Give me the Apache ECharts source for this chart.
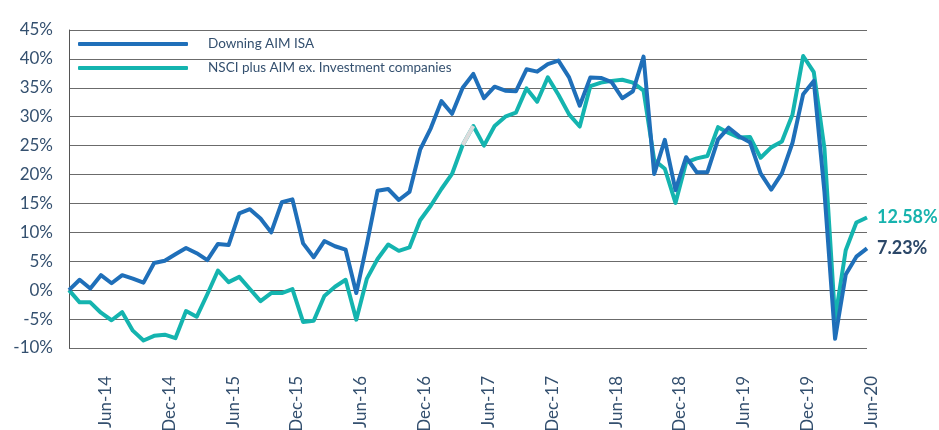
<!DOCTYPE html>
<html>
<head>
<meta charset="utf-8">
<script src="https://cdn.jsdelivr.net/npm/echarts@6/dist/echarts.min.js"></script>
<style>
html,body{margin:0;padding:0;background:#fff;}
#chart{width:939px;height:430px;}
</style>
</head>
<body>
<div id="chart"></div>
<script>
const months = ['Mar-14','Apr-14','May-14','Jun-14','Jul-14','Aug-14','Sep-14','Oct-14','Nov-14','Dec-14',
'Jan-15','Feb-15','Mar-15','Apr-15','May-15','Jun-15','Jul-15','Aug-15','Sep-15','Oct-15','Nov-15','Dec-15',
'Jan-16','Feb-16','Mar-16','Apr-16','May-16','Jun-16','Jul-16','Aug-16','Sep-16','Oct-16','Nov-16','Dec-16',
'Jan-17','Feb-17','Mar-17','Apr-17','May-17','Jun-17','Jul-17','Aug-17','Sep-17','Oct-17','Nov-17','Dec-17',
'Jan-18','Feb-18','Mar-18','Apr-18','May-18','Jun-18','Jul-18','Aug-18','Sep-18','Oct-18','Nov-18','Dec-18',
'Jan-19','Feb-19','Mar-19','Apr-19','May-19','Jun-19','Jul-19','Aug-19','Sep-19','Oct-19','Nov-19','Dec-19',
'Jan-20','Feb-20','Mar-20','Apr-20','May-20','Jun-20'];

const downingAimIsa = [0,1.8,0.3,2.6,1.2,2.6,2.0,1.3,4.7,5.1,
6.2,7.3,6.4,5.2,8.0,7.8,13.3,14.0,12.4,10.0,15.2,15.7,
8.1,5.7,8.5,7.6,7.0,-0.5,8.0,17.2,17.5,15.6,17.0,24.3,
28.0,32.7,30.5,35.0,37.4,33.2,35.2,34.5,34.4,38.2,37.8,39.1,
39.7,36.8,31.9,36.8,36.7,36.0,33.2,34.4,40.4,20.1,26.0,17.3,
23.0,20.4,20.4,26.1,28.1,26.6,25.6,20.2,17.4,20.2,25.5,33.9,
36.2,17.0,-8.4,2.7,5.8,7.23];

const nsciPlusAim = [0,-2.1,-2.1,-3.9,-5.2,-3.8,-7.0,-8.7,-7.9,-7.7,
-8.3,-3.6,-4.6,-0.7,3.4,1.4,2.3,0.2,-1.9,-0.5,-0.5,0.2,
-5.5,-5.3,-1.0,0.6,1.8,-5.1,2.0,5.4,7.9,6.8,7.4,12.1,
14.6,17.5,20.1,25.1,28.4,25.0,28.4,30.0,30.7,34.9,32.6,36.8,
33.8,30.4,28.3,35.3,35.9,36.2,36.4,35.9,34.5,22.5,21.0,15.1,
22.1,22.8,23.2,28.2,27.2,26.4,26.5,22.9,24.7,25.7,30.4,40.5,
37.7,24.5,-5.0,6.9,11.7,12.58];

// months where the benchmark line is drawn in light grey in the original
const greySegmentMonths = ['Apr-17','May-17'];

const seriesNames = ['Downing AIM ISA','NSCI plus AIM ex. Investment companies'];
const axisLabelMonths = ['Jun','Dec'];

const textColor = '#34506f';
const fontFam = 'Lato, "Open Sans", sans-serif';

const greyData = months.map((m, i) => greySegmentMonths.indexOf(m) >= 0 ? nsciPlusAim[i] : null);

const chart = echarts.init(document.getElementById('chart'), null, {renderer:'canvas'});
chart.setOption({
  animation: false,
  backgroundColor: '#ffffff',
  grid: {left: 69, right: 72, top: 30, bottom: 82, containLabel: false, outerBoundsMode: 'none'},
  legend: {
    orient: 'vertical',
    left: 73,
    top: 32,
    itemWidth: 110,
    itemHeight: 4,
    itemGap: 10,
    icon: 'roundRect',
    data: seriesNames,
    textStyle: {fontFamily: fontFam, fontSize: 13.5, color: textColor, padding: [0,0,0,15]}
  },
  xAxis: {
    type: 'category',
    data: months,
    boundaryGap: false,
    axisLine: {show: true, lineStyle: {color: '#555', width: 1}},
    axisTick: {show: false},
    splitLine: {show: false},
    axisLabel: {
      rotate: 90,
      margin: 28,
      fontFamily: fontFam,
      fontSize: 17,
      color: textColor,
      verticalAlign: 'top',
      lineHeight: 9,
      interval: function (idx, val) { return axisLabelMonths.indexOf(val.slice(0,3)) >= 0; }
    }
  },
  yAxis: {
    type: 'value',
    min: -10,
    max: 45,
    interval: 5,
    axisLine: {show: true, lineStyle: {color: '#555', width: 1}},
    axisTick: {show: false},
    splitLine: {show: true, lineStyle: {color: '#6b6b6b', width: 1}},
    axisLabel: {
      formatter: '{value}%',
      margin: 16,
      fontFamily: fontFam,
      fontSize: 17,
      color: textColor
    }
  },
  series: [
    {
      name: seriesNames[1],
      type: 'line',
      data: nsciPlusAim,
      showSymbol: false,
      symbol: 'none',
      color: '#14b4af',
      lineStyle: {width: 4, color: '#14b4af', join: 'round'},
      z: 2,
      endLabel: {
        show: true,
        formatter: function (p) { return p.value.toFixed(2) + '%'; },
        fontFamily: fontFam,
        fontSize: 18,
        fontWeight: 'bold',
        color: '#17b3ae',
        distance: 10
      }
    },
    {
      name: 'grey',
      type: 'line',
      data: greyData,
      showSymbol: false,
      symbol: 'none',
      lineStyle: {width: 4, color: '#dcdcdc'},
      z: 3,
      silent: true
    },
    {
      name: seriesNames[0],
      type: 'line',
      data: downingAimIsa,
      showSymbol: false,
      symbol: 'none',
      color: '#1f6fb9',
      lineStyle: {width: 4, color: '#1f6fb9', join: 'round'},
      z: 4,
      endLabel: {
        show: true,
        formatter: function (p) { return p.value.toFixed(2) + '%'; },
        fontFamily: fontFam,
        fontSize: 18,
        fontWeight: 'bold',
        color: '#2b4768',
        distance: 10
      }
    }
  ]
});
</script>
</body>
</html>
